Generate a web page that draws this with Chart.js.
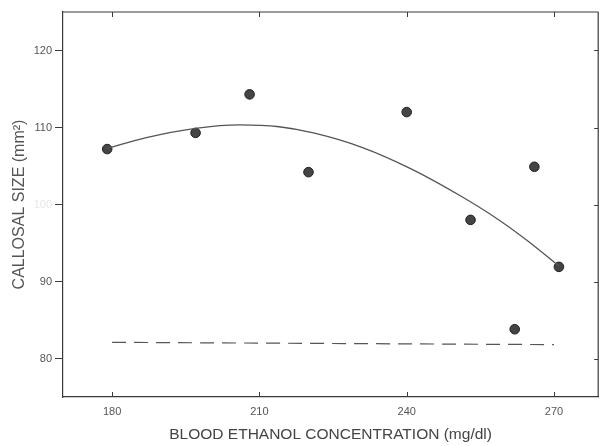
<!DOCTYPE html>
<html>
<head>
<meta charset="utf-8">
<script src="https://cdn.jsdelivr.net/npm/chart.js@4/dist/chart.umd.min.js"></script>
<style>
  html, body { margin: 0; padding: 0; background: #fff; }
  canvas { display: block; }
</style>
</head>
<body>
<canvas id="grafico" width="604" height="446"></canvas>
<script>
// data
const ethanol = [179, 197, 208, 220, 240, 253, 262, 266, 271];
const callosal = [107.2, 109.3, 114.3, 104.2, 112.0, 98.0, 83.8, 104.9, 91.9];

// fitted curve as drawn
const fitX = [179, 187, 197, 206, 214, 221, 231, 241, 251, 259, 265, 271];
const fitY = [107.3, 108.7, 109.9, 110.35, 110.1, 109.3, 107.4, 104.6, 101.1, 97.9, 95.1, 92.0];

// dashed reference line
const dashX = [180, 270];
const dashY = [82.1, 81.8];

const xTicks = [180, 210, 240, 270];
const yTicks = [80, 90, 100, 110, 120];

const toXY = (xs, ys) => xs.map((x, i) => ({ x: x, y: ys[i] }));

// frame + inward tick marks on bottom, top and right
const marcoPlugin = {
  id: "marco",
  afterDraw(chart) {
    const c = chart.ctx;
    const a = chart.chartArea;
    const sx = chart.scales.x;
    const sy = chart.scales.y;
    c.save();
    c.strokeStyle = "#3a3a3a";
    c.lineWidth = 1.2;
    c.beginPath();
    c.moveTo(a.left, a.top);
    c.lineTo(a.right, a.top);
    c.moveTo(a.right, a.top);
    c.lineTo(a.right, a.bottom);
    c.stroke();
    c.lineWidth = 1;
    c.beginPath();
    xTicks.forEach(v => {
      const px = Math.round(sx.getPixelForValue(v)) + 0.5;
      c.moveTo(px, a.bottom);
      c.lineTo(px, a.bottom - 5);
      c.moveTo(px, a.top);
      c.lineTo(px, a.top + 5);
    });
    yTicks.forEach(v => {
      const py = Math.round(sy.getPixelForValue(v)) + 0.5;
      c.moveTo(a.right, py);
      c.lineTo(a.right - 4, py);
    });
    c.stroke();
    c.restore();
  }
};

new Chart(document.getElementById("grafico"), {
  type: "scatter",
  data: {
    datasets: [
      {
        label: "curva",
        data: toXY(fitX, fitY),
        showLine: true,
        borderColor: "#555",
        borderWidth: 1.3,
        pointRadius: 0,
        cubicInterpolationMode: "monotone",
        fill: false
      },
      {
        label: "referencia",
        data: toXY(dashX, dashY),
        showLine: true,
        borderColor: "#555",
        borderWidth: 1.2,
        borderDash: [14, 8],
        pointRadius: 0,
        fill: false
      },
      {
        label: "datos",
        data: toXY(ethanol, callosal),
        backgroundColor: "#444",
        borderColor: "#222",
        borderWidth: 1,
        pointRadius: 4.8
      }
    ]
  },
  options: {
    responsive: false,
    animation: false,
    layout: { padding: { top: 12, right: 1, left: 0, bottom: 0 } },
    plugins: {
      legend: { display: false },
      tooltip: { enabled: false }
    },
    scales: {
      x: {
        type: "linear",
        min: 170,
        max: 279,
        afterFit(s) { s.height = 49; },
        afterBuildTicks(s) { s.ticks = xTicks.map(v => ({ value: v })); },
        grid: { display: true, drawOnChartArea: false, drawTicks: false },
        border: { display: true, color: "#3a3a3a", width: 1.2 },
        ticks: {
          color: "#555",
          padding: 8,
          maxRotation: 0,
          font: { family: "Liberation Sans, Arial", size: 11 }
        },
        title: {
          display: true,
          text: "BLOOD ETHANOL CONCENTRATION (mg/dl)",
          color: "#444",
          padding: { top: 0, bottom: 2 },
          font: { family: "Liberation Sans, Arial", size: 15.5 }
        }
      },
      y: {
        min: 75,
        max: 125,
        afterFit(s) { s.width = 63; },
        afterBuildTicks(s) { s.ticks = yTicks.map(v => ({ value: v })); },
        grid: { display: true, drawOnChartArea: false, drawTicks: true, tickLength: 8, color: "#3a3a3a" },
        border: { display: true, color: "#3a3a3a", width: 1.2 },
        ticks: {
          color: (ctx) => ctx.tick && ctx.tick.value === 100 ? "#e6e6e6" : "#555",
          padding: 3,
          font: { family: "Liberation Sans, Arial", size: 11 }
        },
        title: {
          display: true,
          text: "CALLOSAL SIZE (mm²)",
          color: "#555",
          padding: { top: 10, bottom: 0 },
          font: { family: "Liberation Sans, Arial", size: 16 }
        }
      }
    }
  },
  plugins: [marcoPlugin]
});
</script>
</body>
</html>
